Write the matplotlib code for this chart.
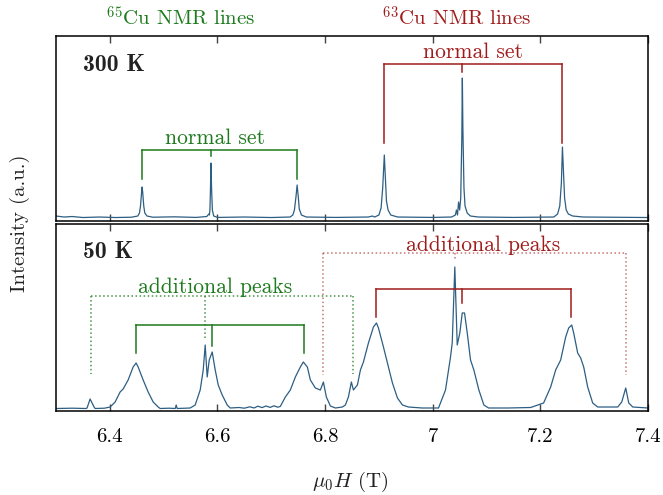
import matplotlib
matplotlib.use("Agg")
import matplotlib.pyplot as plt

plt.rcParams['font.family'] = 'cmr10'
plt.rcParams['mathtext.fontset'] = 'cm'
plt.rcParams['axes.formatter.use_mathtext'] = True

# ---- spectra (field in T, intensity in arb. units) ----
field_300K = [6.300, 6.315, 6.330, 6.350, 6.380, 6.410, 6.440, 6.452, 6.455, 6.457, 6.459,
              6.460, 6.461, 6.463, 6.465, 6.469, 6.480, 6.520, 6.560, 6.580, 6.584, 6.585,
              6.586, 6.587, 6.588, 6.589, 6.5905, 6.593, 6.600, 6.650, 6.700, 6.735, 6.740,
              6.743, 6.746, 6.748, 6.750, 6.752, 6.756, 6.765, 6.820, 6.880, 6.888, 6.892,
              6.900, 6.904, 6.907, 6.910, 6.912, 6.914, 6.917, 6.922, 6.935, 7.000, 7.035,
              7.042, 7.044, 7.046, 7.048, 7.050, 7.052, 7.054, 7.055, 7.056, 7.058, 7.060,
              7.064, 7.070, 7.085, 7.150, 7.225, 7.232, 7.236, 7.239, 7.241, 7.243, 7.245,
              7.248, 7.252, 7.260, 7.280, 7.330, 7.400]
intensity_300K = [2.0, 1.0, 1.5, 0.5, 1.0, 0.5, 0.8, 2, 5, 12, 26,
                  31, 26, 12, 5, 2, 0.8, 1.2, 0.6, 1.5, 4, 3,
                  8, 30, 55, 30, 8, 2, 0.6, 1.0, 0.5, 1, 3,
                  8, 22, 33, 22, 9, 3, 1, 0.6, 1, 2, 1,
                  3, 10, 30, 63, 40, 17, 8, 3, 1, 0.6, 1,
                  3, 8, 3, 16, 8, 20, 80, 140, 90, 30, 12,
                  5, 2, 1, 0.6, 1, 4, 12, 35, 71, 45, 20,
                  8, 4, 2, 1, 0.8, 0.5]

field_50K = [6.300, 6.330, 6.3558, 6.3577, 6.3633, 6.3707, 6.3726, 6.390, 6.4005, 6.4098,
             6.4191, 6.4247, 6.4340, 6.4433, 6.4488, 6.4526, 6.4619, 6.4712, 6.4805, 6.4898,
             6.4935, 6.510, 6.5215, 6.5233, 6.5251, 6.540, 6.5493, 6.5586, 6.5679, 6.5735,
             6.5772, 6.5809, 6.5847, 6.5902, 6.5958, 6.6014, 6.6088, 6.6181, 6.6237, 6.640,
             6.650, 6.660, 6.668, 6.675, 6.683, 6.690, 6.698, 6.705, 6.712, 6.7168,
             6.7261, 6.7354, 6.7447, 6.7540, 6.7595,
             6.7670, 6.7726, 6.7819, 6.7912, 6.7968, 6.8023, 6.8098, 6.8191, 6.8321, 6.8377,
             6.8433, 6.8488, 6.8526, 6.8600, 6.8656, 6.8712, 6.8805, 6.8898, 6.8954, 6.8991,
             6.9084, 6.9158, 6.9251, 6.9344, 6.9437, 6.9549, 6.980, 7.0107, 7.0237, 7.0330,
             7.0362, 7.0410, 7.0455, 7.0503, 7.0548, 7.0591, 7.0641, 7.0702, 7.0764, 7.0857,
             7.0950, 7.1037, 7.140, 7.1819, 7.2060, 7.2191, 7.2284, 7.2377, 7.2470, 7.2526,
             7.2582, 7.2619, 7.2693, 7.2749, 7.2805, 7.2879, 7.2972, 7.3065, 7.3437, 7.3512,
             7.3586, 7.3642, 7.3716, 7.400]
intensity_50K = [0.5, 0.8, 0.5, 1, 10, 2, 0.5, 0.8, 2, 7,
                 17, 20, 29, 42, 46, 42, 29, 17, 7, 2,
                 0.5, 0.8, 0.5, 4, 0.5, 0.8, 1, 4, 19, 39,
                 64, 32, 49, 57, 39, 24, 14, 4, 1, 1.5,
                 0.8, 2.2, 1.0, 2.8, 1.4, 3.0, 1.6, 3.2, 1.8, 2.6,
                 12, 19, 32, 42, 47,
                 42, 29, 21, 19, 27, 12, 3, 1, 2, 4,
                 12, 27, 19, 24, 39, 47, 66, 82, 86, 81,
                 62, 46, 26, 11, 4, 2, 1, 1, 19, 52,
                 66, 142, 64, 76, 96, 96, 76, 49, 39, 19,
                 4, 1, 1, 1.5, 6, 22, 39, 49, 72, 81,
                 84, 76, 56, 51, 42, 22, 6, 2, 2, 7,
                 21, 6, 2, 1]

# ---- NMR line positions (T) ----
cu65_normal_300K = [6.460, 6.588, 6.748]
cu63_normal_300K = [6.910, 7.055, 7.241]
cu65_normal_50K = [6.449, 6.590, 6.761]
cu65_extra_50K = [6.365, 6.577, 6.851]
cu63_normal_50K = [6.895, 7.055, 7.256]
cu63_extra_50K = [6.797, 7.042, 7.359]

tick_fields = [6.4, 6.6, 6.8, 7.0, 7.2, 7.4]
tick_labels = ['6.4', '6.6', '6.8', '7', '7.2', '7.4']

blue = '#2d5e83'
green = '#1d7a1d'
red = '#a01c1c'


def bracket(ax, xs, bar_y, leg_y, mid_y, color, ls='-', alpha=1.0):
    # horizontal bar across the three lines, legs down toward the peaks
    kw = dict(color=color, lw=1.1, ls=ls, alpha=alpha)
    ax.plot([xs[0], xs[2]], [bar_y, bar_y], **kw)
    ax.plot([xs[0], xs[0]], [bar_y, leg_y], **kw)
    ax.plot([xs[2], xs[2]], [bar_y, leg_y], **kw)
    ax.plot([xs[1], xs[1]], [bar_y, mid_y], **kw)


fig = plt.figure(figsize=(6.63, 4.95), dpi=100)
ax1 = fig.add_axes([0.0845, 0.5535, 0.8929, 0.3737])
ax2 = fig.add_axes([0.0845, 0.1697, 0.8929, 0.3778])

ax1.plot(field_300K, intensity_300K, color=blue, lw=0.9)
ax2.plot(field_50K, intensity_50K, color=blue, lw=0.9)

ax1.set_ylim(-3, 182)
ax2.set_ylim(-2, 185)

for ax in (ax1, ax2):
    ax.set_xlim(6.3, 7.4)
    ax.set_xticks(tick_fields)
    ax.set_xticklabels(tick_labels)
    ax.set_yticks([])
    ax.tick_params(axis='x', direction='in', top=True, bottom=True, length=5,
                   width=1.0, color='#444444', labelsize=15, pad=12)
    for sp in ax.spines.values():
        sp.set_linewidth(1.1)
ax1.tick_params(axis='x', labelbottom=False)

# 300 K brackets
bracket(ax1, cu65_normal_300K, 68, 39, 62, green)
bracket(ax1, cu63_normal_300K, 154, 75, 146, red)
ax1.text(6.596, 70, 'normal set', color=green, fontsize=15.5, ha='center', va='bottom')
ax1.text(7.074, 156, 'normal set', color=red, fontsize=15.5, ha='center', va='bottom')

# 50 K brackets
bracket(ax2, cu65_extra_50K, 113, 35, 69, green, ls=':', alpha=0.8)
bracket(ax2, cu63_extra_50K, 156, 34, 149, red, ls=':', alpha=0.6)
bracket(ax2, cu65_normal_50K, 84, 56, 63, green)
bracket(ax2, cu63_normal_50K, 120, 92, 106, red)
ax2.text(6.596, 116, 'additional peaks', color=green, fontsize=15.5, ha='center', va='baseline')
ax2.text(7.094, 158, 'additional peaks', color=red, fontsize=15.5, ha='center', va='baseline')

ax1.text(0.045, 0.81, '300 K', transform=ax1.transAxes, fontsize=17,
         family='cmb10', ha='left', va='baseline', color='#222222')
ax2.text(0.045, 0.82, '50 K', transform=ax2.transAxes, fontsize=17,
         family='cmb10', ha='left', va='baseline', color='#222222')

ax1.text(6.531, 1.055, r'$^{65}$Cu NMR lines', transform=ax1.get_xaxis_transform(),
         color=green, fontsize=15, ha='center', va='baseline')
ax1.text(7.044, 1.055, r'$^{63}$Cu NMR lines', transform=ax1.get_xaxis_transform(),
         color=red, fontsize=15, ha='center', va='baseline')

fig.text(0.030, 0.548, 'Intensity (a.u.)', rotation=90, fontsize=15,
         ha='center', va='center', color='#222222')
fig.text(0.528, 0.026, r'$\mu_0H$ (T)', fontsize=15, ha='center', va='center',
         color='#222222')

fig.savefig('out.png', dpi=100)
